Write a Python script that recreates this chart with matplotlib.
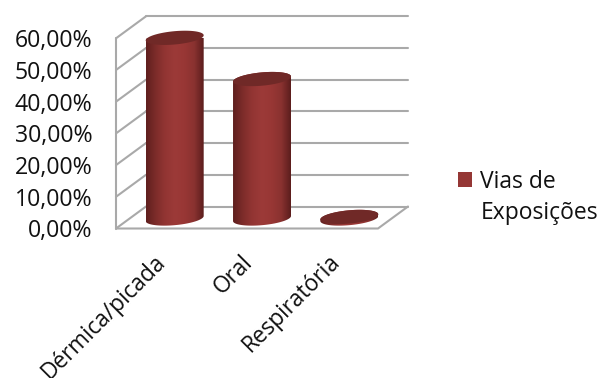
import numpy as np
import matplotlib
matplotlib.use("Agg")
import matplotlib.pyplot as plt
from matplotlib.colors import LinearSegmentedColormap
from matplotlib.legend_handler import HandlerPatch
from matplotlib.patches import PathPatch, Patch, Rectangle
from matplotlib.path import Path

categories = ["Dérmica/picada", "Oral", "Respiratória"]
values = [57.0, 44.0, 0.5]
y_ticks = [0, 10, 20, 30, 40, 50, 60]
series_name = "Vias de\nExposições"

GRID = "#a9a9a9"
TOP = "#702927"
cmap = LinearSegmentedColormap.from_list(
    "cyl", ["#5f1f1e", "#7d2c2a", "#933533", "#9c3a38", "#983735", "#8a3230", "#5c1e1d"])

plt.rcParams["font.family"] = ["Open Sans", "DejaVu Sans"]
W, H = 598, 378
fig = plt.figure(figsize=(W / 100, H / 100), dpi=100)
L, R, T, B = 116, 378, 38.3, 228.5
ax = fig.add_axes([L / W, 1 - B / H, (R - L) / W, (B - T) / H])
ax.set_xlim(0, 3)
ax.set_ylim(0, 60)
for s in ax.spines.values():
    s.set_visible(False)

# pseudo-3D depth in data units
dx, dy = 30 / 87.33, 22 / 3.17
lw = 1.5
kw = dict(color=GRID, lw=lw, clip_on=False, zorder=1, solid_capstyle="round")
for v in y_ticks:
    ax.plot([0, dx], [v, v + dy], **kw)
    ax.plot([dx, 3 + dx], [v + dy, v + dy], **kw)
ax.plot([0, 0], [0, 60], **kw)
ax.plot([0, 3, 3 + dx], [0, 0, dy], **kw)

# cylinders
w, skew, b = 0.332, 0.8, 2.1
base = 3.15
offset = 0.672
t = np.linspace(0, 2 * np.pi, 121)
for i, val in enumerate(values):
    cx = i + offset
    top = base + val
    tb = np.linspace(np.pi, 2 * np.pi, 60)
    xb = cx + w * np.cos(tb)
    yb = base + skew * np.cos(tb) + b * np.sin(tb)
    xt = cx + w * np.cos(tb[::-1])
    yt = top + skew * np.cos(tb[::-1]) - b * np.sin(tb[::-1])
    verts = np.column_stack([np.r_[xb, xt], np.r_[yb, yt]])
    body = PathPatch(Path(np.vstack([verts, verts[0]]), closed=True), fc="none", ec="none",
                     transform=ax.transData, clip_on=False)
    ax.add_patch(body)
    im = ax.imshow(np.linspace(0, 1, 128)[None, :], extent=[cx - w, cx + w, base - 4, top + 4],
                   cmap=cmap, aspect="auto", zorder=2, interpolation="bilinear")
    im.set_clip_path(body)
    cap = PathPatch(Path(np.column_stack([cx + w * np.cos(t),
                                          top + skew * np.cos(t) + b * np.sin(t)])),
                    fc=TOP, ec="none", zorder=3, clip_on=False)
    ax.add_patch(cap)
ax.set_xlim(0, 3)
ax.set_ylim(0, 60)

ax.set_yticks(y_ticks)
ax.set_yticklabels([f"{v:.2f}".replace(".", ",") + "%" for v in y_ticks], fontsize=16.7, color="#111111")
ax.set_xticks([i + 0.43 for i in range(len(categories))])
ax.set_xticklabels(categories, rotation=45, ha="right", rotation_mode="anchor",
                   fontsize=16.3, color="#111111")
ax.tick_params(axis="y", length=0, pad=17)
ax.tick_params(axis="x", length=0, pad=15.5)


def raised_square(legend, orig_handle, xdescent, ydescent, width, height, fontsize):
    return Rectangle((-xdescent, -ydescent + 13.7), width, height)


handle = Patch(fc="#953735", ec="none")
leg = fig.legend([handle], [series_name], loc="center left", bbox_to_anchor=(458 / W, 1 - 197.5 / H),
                 frameon=False, fontsize=16.5, handlelength=0.62, handleheight=0.62, handletextpad=0.36,
                 labelcolor="#111111", borderpad=0, borderaxespad=0, labelspacing=0,
                 handler_map={Patch: HandlerPatch(patch_func=raised_square)})
leg.get_texts()[0].set_linespacing(1.42)
fig.savefig("out.png", dpi=100)
